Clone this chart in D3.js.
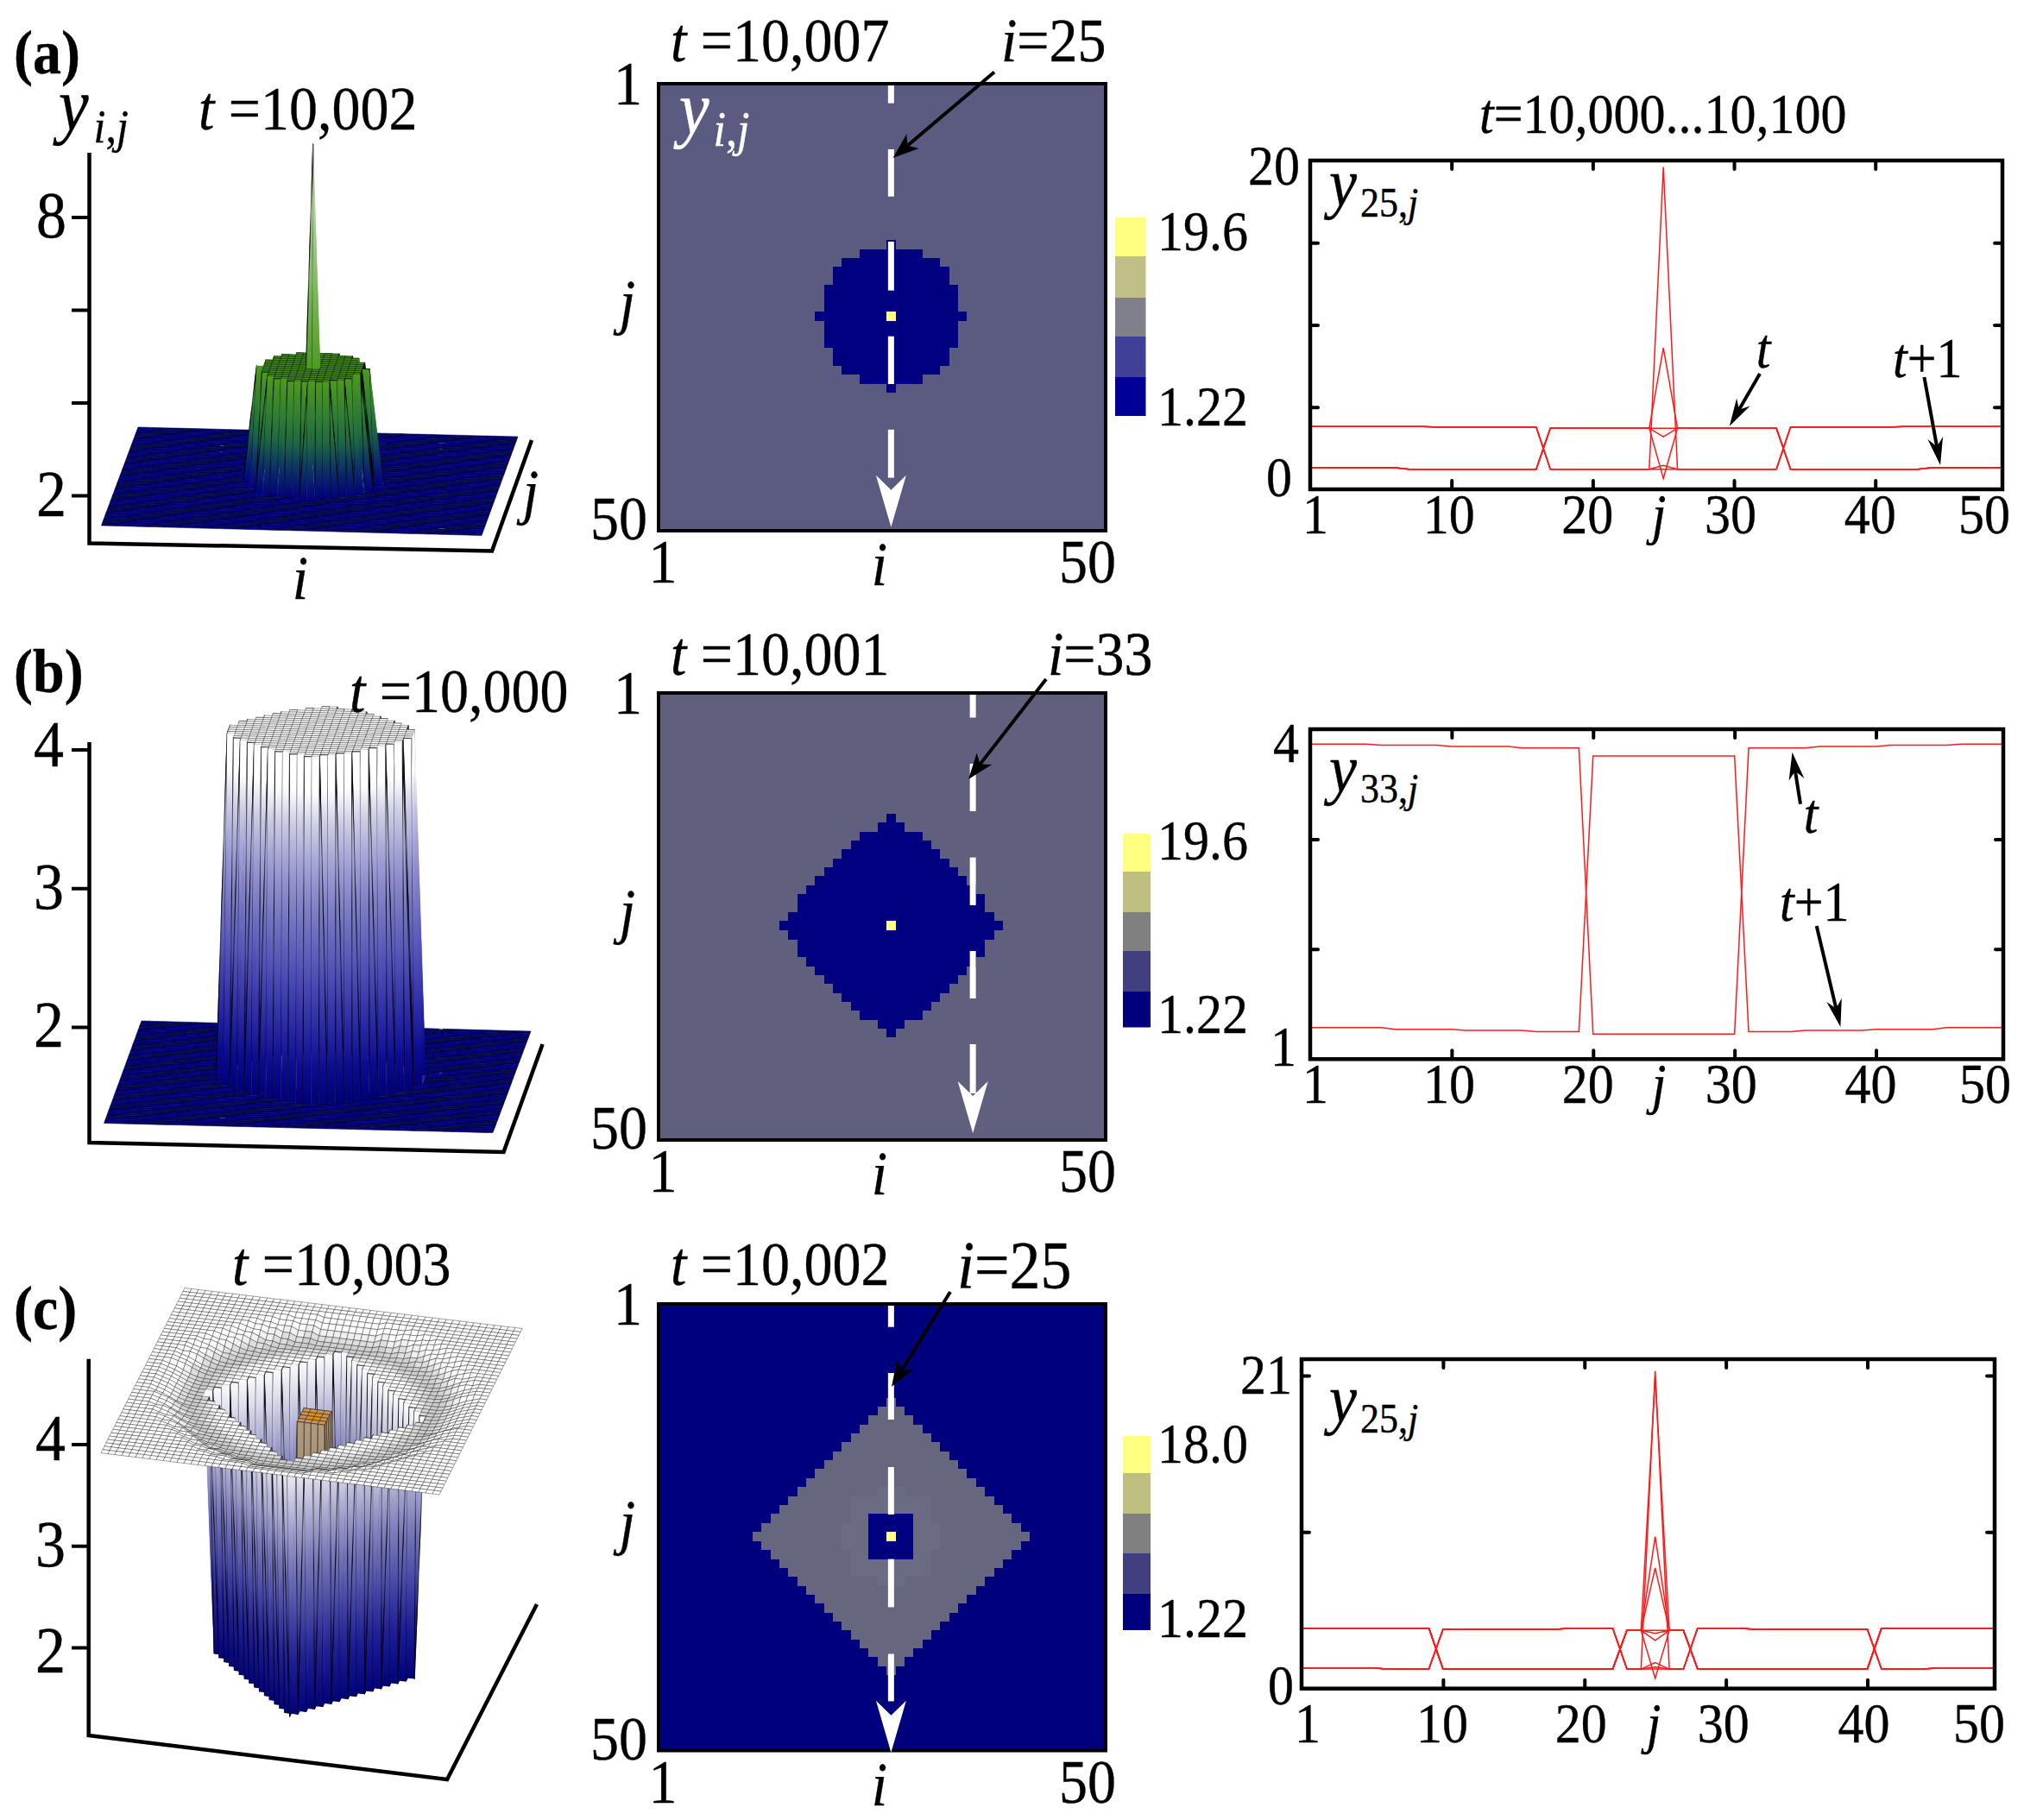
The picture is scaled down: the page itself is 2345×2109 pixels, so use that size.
<!DOCTYPE html>
<html><head><meta charset="utf-8">
<script src="https://cdn.jsdelivr.net/npm/d3@7/dist/d3.min.js"></script>
<style>
html,body{margin:0;padding:0;background:#fff}
svg{display:block}
text{font-family:"Liberation Serif","Times New Roman",serif;fill:#000;white-space:pre}
</style></head><body>
<script>
// ---------- values ----------
// half-widths (in cells) of the low region, for row distance 0,1,2... from the centre cell
const maskA = [8,7,7,7,6,6,5,3,0];
const maskB = [12,11,10,10,9,8,7,6,5,4,3,1,0];
const maskC = [15,14,13,12,11,10,9,8,7,6,5,4,3,2,1,0];
const maskCInner = [5,5,4,4,4,1];
const maskCSquare = [2,2,2];
const maskCentre = [0];
const maskB3D = [12,12,12,11,11,10,9,8,7,6,5,3,1];

const cutColumns = [25,34.15,25];
const barColorsA = ["#ffff80","#bfbf87","#80808c","#404098","#000099"];
const barColorsB = ["#ffff80","#bfbf80","#808080","#404080","#00007f"];
const barColorsC = ["#ffff80","#bfbf80","#808080","#404080","#00007f"];

// line-plot profiles, j = 0..49
const a_t = [3.82,3.82,3.82,3.82,3.82,3.82,3.82,3.82,3.82,3.78,3.78,3.78,3.78,3.78,3.78,3.78,3.78,1.22,1.22,1.22,1.22,1.22,1.22,1.22,1.22,1.22,1.22,1.22,1.22,1.22,1.22,1.22,1.22,1.22,3.78,3.78,3.78,3.78,3.78,3.78,3.78,3.78,3.82,3.82,3.82,3.82,3.82,3.82,3.82,3.82];
const a_t1 = [1.31,1.31,1.31,1.31,1.31,1.31,1.31,1.22,1.22,1.22,1.22,1.22,1.22,1.22,1.22,1.22,1.22,3.72,3.72,3.72,3.72,3.72,3.72,3.72,3.72,3.72,3.72,3.72,3.72,3.72,3.72,3.72,3.72,3.72,1.22,1.22,1.22,1.22,1.22,1.22,1.22,1.22,1.22,1.22,1.31,1.31,1.31,1.31,1.31,1.31];
const a_centre = [[0,19.6],[0,1.45],[1,8.6],[1,3.2],[1,0.66]];   // [profile, value at j=25]

const b_t = [3.864,3.864,3.864,3.864,3.864,3.854,3.854,3.854,3.854,3.854,3.843,3.843,3.843,3.843,3.843,3.83,3.83,3.83,3.83,3.83,1.227,1.227,1.227,1.227,1.227,1.227,1.227,1.227,1.227,1.227,1.227,3.83,3.83,3.83,3.83,3.83,3.843,3.843,3.843,3.843,3.843,3.854,3.854,3.854,3.854,3.854,3.864,3.864,3.864,3.864];
const b_t1 = [1.287,1.287,1.287,1.287,1.287,1.287,1.272,1.272,1.272,1.272,1.272,1.262,1.262,1.262,1.262,1.262,1.25,1.25,1.25,1.25,3.757,3.757,3.757,3.757,3.757,3.757,3.757,3.757,3.757,3.757,3.757,1.25,1.25,1.25,1.25,1.262,1.262,1.262,1.262,1.262,1.272,1.272,1.272,1.272,1.272,1.287,1.287,1.287,1.287,1.287];
const b_centre = [];

const c_t = [4.05,4.05,4.05,4.05,4.05,4.05,4.05,4.05,4.05,4.05,1.31,1.31,1.31,1.31,1.31,1.31,1.31,1.31,1.31,1.31,1.31,1.31,1.31,3.9,3.9,3.9,3.9,3.9,1.31,1.31,1.31,1.31,1.31,1.31,1.31,1.31,1.31,1.31,1.31,1.31,1.31,4.05,4.05,4.05,4.05,4.05,4.05,4.05,4.05,4.05];
const c_t1 = [1.39,1.39,1.39,1.39,1.39,1.39,1.31,1.31,1.31,1.31,3.98,3.98,3.98,3.98,3.98,3.98,3.98,3.98,3.98,4.05,4.05,4.05,4.05,1.31,1.31,1.31,1.31,1.31,4.05,4.05,4.05,4.05,3.98,3.98,3.98,3.98,3.98,3.98,3.98,3.98,3.98,1.31,1.31,1.31,1.31,1.39,1.39,1.39,1.39,1.39];
const c_centre = [[1,21.3],[1,1.74],[1,1.45],[0,20.9],[0,10.2],[0,8.1],[0,3.7],[0,3.23],[0,0.68]];

// 3-D surfaces: heights
const a3d = {floor:1.3, top:3.78, spike:8.6};
const b3d = {floor:1.4, top:3.9};
const c3d = {mesh:4.1, well:1.42, block:3.87};
const meshSag = [-.13,-.13,-.13,-.13,-.13,-.13,-.13,-.13,-.13,-.13,-.13,-.13,-.13,-.13,-.13,-.13,-.13,-.13,-.12,-.10,-.07,-.04,-.02];
const meshShade = ["#fff","#fff","#fff","#fff","#fff","#fff","#fff","#fff","#fff","#fff","#fff","#fff","#fff","#fff","#fff","#e8e8e8","#d8d8d8","#cccccc","#d0d0d0","#dedede","#f0f0f0"];

const xTickLabels = ["1","10","20","30","40","50"];

// ---------- page ----------
const W=2345,H=2109;
const svg=d3.select("body").append("svg").attr("width",W).attr("height",H).attr("viewBox",`0 0 ${W} ${H}`);
const defs=svg.append("defs");

function label(x,y,parts,size,opt={}){
  const col=opt.fill||"#000";
  const t=svg.append("text").attr("font-size",size)
    .attr("transform",`translate(${x},${y}) scale(1,1.1)`)
    .attr("text-anchor",opt.anchor||"start")
    .attr("stroke",col).attr("stroke-width",.35);
  if(opt.fill)t.style("fill",opt.fill);
  if(opt.bold)t.attr("font-weight","bold");
  (Array.isArray(parts)?parts:[parts]).forEach(p=>{
    if(typeof p==="string")p={t:p};
    const s=t.append("tspan").text(p.t);
    if(p.i)s.attr("font-style","italic");
    if(p.size)s.attr("font-size",p.size);
    if(p.dy)s.attr("dy",p.dy);
    if(p.dx)s.attr("dx",p.dx);
    if(opt.fill)s.style("fill",opt.fill);
  });
  return t;
}
function arrow(g,x1,y1,x2,y2,o={}){
  const col=o.col||"#000",len=o.len||30,hw=o.hw||10,n=o.notch||20,sw=o.sw===undefined?4:o.sw;
  const a=Math.atan2(y2-y1,x2-x1),c=Math.cos(a),s=Math.sin(a);
  if(sw>0)g.append("line").attr("x1",x1).attr("y1",y1).attr("x2",x2-c*n).attr("y2",y2-s*n)
    .attr("stroke",col).attr("stroke-width",sw);
  const pt=(l,w)=>[x2-c*l-s*w,y2-s*l+c*w];
  g.append("polygon").attr("fill",col)
    .attr("points",[pt(0,0),pt(len,hw),pt(n,0),pt(len,-hw)].map(p=>p.map(v=>v.toFixed(1)).join(",")).join(" "));
}

// ---------- heat maps ----------
const heatPanels=[
 {top:97,bottom:615,bg:"#5b5a80",
  layers:[[maskA,"#000080"],[maskCentre,"#ffff80"]],
  cut:cutColumns[0],dashes:[[97,119.6],[173,227.7],[280,336.6],[389.7,445],[497.8,553.6]],head:[610.7],
  bar:{x:1292,w:35.5,stops:[252,297,345,390,437,482],colors:barColorsA},
  barTop:"19.6",barBottom:"1.22",barTopY:290,barBottomY:493,
  title:["10,007"],titleY:71.4,cutLabel:"=25",cutX:1160,cutY:71,cutSize:66,
  arrow:[1152,83.5,1034.6,183]},
 {top:803,bottom:1321,bg:"#60607e",
  layers:[[maskB,"#000080"],[maskCentre,"#ffff80"]],
  cut:cutColumns[1],dashes:[[804,831.5],[885,940],[993.6,1049],[1102,1157],[1210,1267]],head:[1313],
  bar:{x:1301,w:32,stops:[966,1010,1057,1102,1149,1190.5],colors:barColorsB},
  barTop:"19.6",barBottom:"1.22",barTopY:996,barBottomY:1197,
  title:["10,001"],titleY:782,cutLabel:"=33",cutX:1214,cutY:782,cutSize:66,
  arrow:[1212,787,1122,903]},
 {top:1511,bottom:2028.5,bg:"#00007f",
  layers:[[maskC,"#66667f"],[maskCInner,"#6b6b83"],[maskCSquare,"#000080"],[maskCentre,"#ffff80"]],
  cut:cutColumns[2],dashes:[[1511,1537.7],[1591,1645],[1700,1755],[1806.6,1862.4],[1916.5,1971.4]],head:[2030.7],
  bar:{x:1301,w:32,stops:[1664,1707,1754,1800,1847,1889],colors:barColorsC},
  barTop:"18.0",barBottom:"1.22",barTopY:1695,barBottomY:1897,
  title:["10,002"],titleY:1489.4,cutLabel:"=25",cutX:1109,cutY:1491.6,cutSize:72,
  arrow:[1101,1497,1033,1606.7]}
];
const titleBottomOffset=60;
heatPanels.forEach(p=>{
  const left=763,right=1281;
  const x=d3.scaleLinear().domain([-0.5,49.5]).range([left,right]);
  const y=d3.scaleLinear().domain([-0.5,49.5]).range([p.top,p.bottom]);
  const g=svg.append("g");
  g.append("rect").attr("x",left).attr("y",p.top).attr("width",right-left).attr("height",p.bottom-p.top).attr("fill",p.bg);
  p.layers.forEach(([mask,fill])=>{
    const rows=[];
    mask.forEach((hw,d)=>{rows.push([25+d,hw]); if(d>0)rows.push([25-d,hw]);});
    g.append("g").attr("shape-rendering","crispEdges").selectAll("rect").data(rows).join("rect")
      .attr("x",r=>x(25-r[1])).attr("width",r=>x(25+r[1]+1)-x(25-r[1]))
      .attr("y",r=>y(r[0])).attr("height",r=>y(r[0]+1)-y(r[0])+.6).attr("fill",fill);
  });
  const cx=x(p.cut)+(x(1)-x(0))/2;
  g.append("g").selectAll("rect").data(p.dashes).join("rect")
    .attr("x",cx-3.5).attr("width",7).attr("y",d=>d[0]).attr("height",d=>d[1]-d[0]).attr("fill","#fff");
  g.append("rect").attr("x",left).attr("y",p.top).attr("width",right-left).attr("height",p.bottom-p.top)
    .attr("fill","none").attr("stroke","#000").attr("stroke-width",4);
  arrow(g,cx,p.head[0]-60,cx,p.head[0],{col:"#fff",len:60,hw:17.5,notch:43,sw:0});
  arrow(g,...p.arrow,{len:30,hw:11,notch:22,sw:4});
  // colour bar
  const b=p.bar;
  g.append("g").selectAll("rect").data(b.colors).join("rect")
    .attr("x",b.x).attr("width",b.w).attr("y",(c,i)=>b.stops[i]).attr("height",(c,i)=>b.stops[i+1]-b.stops[i]).attr("fill",c=>c);
  label(1341,p.barTopY,p.barTop,60);
  label(1341,p.barBottomY,p.barBottom,60);
  label(777,p.titleY,[{t:"t",i:true},{t:" =10,"+p.title[0].slice(3)}],66);
  label(p.cutX,p.cutY,[{t:"i",i:true},{t:p.cutLabel}],p.cutSize);
  // axis numbers
  label(744,p.top+24,"1",66,{anchor:"end"});
  label(750,p.bottom+10,"50",66,{anchor:"end"});
  label(768,p.bottom+titleBottomOffset,"1",66,{anchor:"middle"});
  label(1260,p.bottom+titleBottomOffset,"50",66,{anchor:"middle"});
  label(1019,p.bottom+titleBottomOffset+3,[{t:"i",i:true}],66,{anchor:"middle"});
  label(727,p.top+277,[{t:"j",i:true}],66,{anchor:"middle"});
});
label(787,154,[{t:"y",i:true},{t:"i",i:true,size:52,dy:14,dx:5},{t:",",size:52},{t:"j",i:true,size:52}],78,{fill:"#fff"});

// ---------- line plots ----------
const linePanels=[
 {L:1518,R:2320,T:186,B:567,dom:[0,20],yTicks:[5,10,15],
  profiles:[a_t,a_t1],centre:a_centre,
  yLabels:[["20",1506,214],["0",1497,575]],xBase:618,xNudge:[6,-3,-6,-4,-6,-21],jX:1922,
  sub:"25,",subY:238,
  notes:[[2043,426,[{t:"t",i:true}],"middle"],[2193,437,[{t:"t",i:true},{t:"+1"}],"start"]],
  arrows:[[2039,433,2003.8,493.7],[2229.4,437,2248,539]]},
 {L:1518,R:2321,T:845,B:1227.3,dom:[1,4],yTicks:[2,3],
  profiles:[b_t,b_t1],centre:b_centre,
  yLabels:[["4",1505,883],["1",1502,1235]],xBase:1278,xNudge:[6,-3,-6,-4,-6,-21],jX:1922,
  sub:"33,",subY:916.7,
  notes:[[2098,965,[{t:"t",i:true}],"middle"],[2062,1067,[{t:"t",i:true},{t:"+1"}],"start"]],
  arrows:[[2086,931.7,2076.5,871.7],[2104.7,1073,2132.4,1190]]},
 {L:1508,R:2311,T:1575,B:1956.7,dom:[0,22.1],yTicks:[10.5,21],
  profiles:[c_t,c_t1],centre:c_centre,
  yLabels:[["21",1497,1615],["0",1499,1975]],xBase:2019,xNudge:[7,-1,-4,-3,-4,-18],jX:1916,
  sub:"25,",subY:1647,notes:[],arrows:[]}
];
linePanels.forEach(p=>{
  const x=d3.scaleLinear().domain([0,49]).range([p.L,p.R]);
  const y=d3.scaleLinear().domain(p.dom).range([p.B,p.T]);
  const line=d3.line().x((d,i)=>x(i)).y(d=>y(d));
  const g=svg.append("g");
  const series=[...p.profiles];
  p.centre.forEach(([k,v])=>{const s=p.profiles[k].slice();s[25]=v;series.push(s);});
  g.append("g").selectAll("path").data(series).join("path")
    .attr("d",line).attr("fill","none").attr("stroke","#ff1a1a").attr("stroke-width",1.5);
  const tickVals=[10,20,30,40];
  const axes=[
    [d3.axisBottom(x).tickValues(tickVals).tickSize(-10),p.B,0],
    [d3.axisTop(x).tickValues(tickVals).tickSize(-10),p.T,0],
    [d3.axisLeft(y).tickValues(p.yTicks).tickSize(-9),0,p.L],
    [d3.axisRight(y).tickValues(p.yTicks).tickSize(-9),0,p.R]];
  axes.forEach(([ax,ty,tx])=>{
    const a=g.append("g").attr("transform",`translate(${tx},${ty})`).call(ax.tickFormat("").tickSizeOuter(0));
    a.select(".domain").remove();
    a.selectAll("line").attr("stroke","#000").attr("stroke-width",4).attr("stroke-linecap","round");
  });
  g.append("rect").attr("x",p.L).attr("y",p.T).attr("width",p.R-p.L).attr("height",p.B-p.T)
    .attr("fill","none").attr("stroke","#000").attr("stroke-width",4.5);
  p.yLabels.forEach(([t,lx,ly])=>label(lx,ly,t,60,{anchor:"end"}));
  [0,10,20,30,40,49].forEach((v,i)=>label(x(v)+p.xNudge[i],p.xBase,xTickLabels[i],60,{anchor:"middle"}));
  label(p.jX,p.xBase,[{t:"j",i:true}],60,{anchor:"middle"});
  label(1540,p.subY,[{t:"y",i:true},{t:p.sub,size:44,dy:12,dx:4},{t:"j",i:true,size:44}],72);
  p.notes.forEach(([nx,ny,parts,an])=>label(nx,ny,parts,60,{anchor:an}));
  p.arrows.forEach(a=>arrow(g,...a,{len:32,hw:9,notch:22,sw:4}));
});
label(1714,154.4,[{t:"t",i:true},{t:"=10,000...10,100"}],60);

// ---------- 3-D surfaces ----------
const gradCache=new Map();
const wl=defs.append("linearGradient").attr("id","wallLine").attr("x1",0).attr("y1",0).attr("x2",0).attr("y2",1);
[[0,.7],[.1,.95],[.3,.35],[.45,.85],[.6,.4],[.75,.9],[1,.6]].forEach(([o,a])=>
  wl.append("stop").attr("offset",o).attr("stop-color","#000").attr("stop-opacity",a));
function wallGradient(key,ramp,zlo,zhi){
  const id=`g${key}_${Math.round(zlo*5)}_${Math.round(zhi*5)}`;
  if(!gradCache.has(id)){
    gradCache.set(id,1);
    const g=defs.append("linearGradient").attr("id",id).attr("x1",0).attr("y1",0).attr("x2",0).attr("y2",1);
    d3.range(0,1.001,.1).forEach(t=>g.append("stop").attr("offset",t).attr("stop-color",ramp(zhi+(zlo-zhi)*t)));
  }
  return `url(#${id})`;
}
// walls carry a dark edge only on every other column; the others keep a hairline of their own fill
function wallStyle(q,fill){
  const edge=q.i%2===0;
  return {fill,stroke:edge?"url(#wallLine)":fill,sw:edge?1.1:.2};
}
const inMask=(m,i,j)=>{const d=Math.abs(j-25);return d<m.length&&Math.abs(i-25)<=m[d];};

function surface(p){
  const g=svg.append("g");
  const nodes=d3.range(50);
  const pr=(i,j,z)=>{
    const u=i/49,v=j/49;
    const tx=p.BL[0]+(p.BR[0]-p.BL[0])*u,ty=p.BL[1]+(p.BR[1]-p.BL[1])*u;
    const bx=p.FL[0]+(p.FR[0]-p.FL[0])*u,by=p.FL[1]+(p.FR[1]-p.FL[1])*u;
    const X=tx+(bx-tx)*v,Y=ty+(by-ty)*v,zp=p.zs(z);
    return [p.cx+(X-p.cx)*(1-p.k*zp),Y-zp,Y];
  };
  const quads=[];
  nodes.slice(0,49).forEach(j=>nodes.slice(0,49).forEach(i=>{
    const cs=[[i,j],[i+1,j],[i+1,j+1],[i,j+1]];
    const zz=cs.map(c=>p.h(c[0],c[1]));
    const pts=cs.map((c,k)=>pr(c[0],c[1],zz[k]));
    const depth=d3.mean(pts,q=>q[2]);
    quads.push({i,j,zz,pts,depth,cs});
  }));
  quads.sort((a,b)=>a.depth-b.depth);
  g.selectAll("polygon").data(quads).join("polygon")
    .attr("points",q=>q.pts.map(a=>a[0].toFixed(1)+","+a[1].toFixed(1)).join(" "))
    .each(function(q){
      const lo=d3.min(q.zz),hi=d3.max(q.zz),s=d3.select(this);
      const st=p.style(q,lo,hi);
      s.attr("fill",st.fill).attr("stroke",st.stroke).attr("stroke-width",st.sw).attr("stroke-linejoin","round");
      if(st.so)s.attr("stroke-opacity",st.so);
    });
  p.axis.forEach(seg=>g.append("polyline").attr("points",seg.map(a=>a.join(",")).join(" "))
    .attr("fill","none").attr("stroke","#000").attr("stroke-width",4.5).attr("stroke-linejoin","miter"));
  const ay=p.yAxis;
  ay.vals.forEach(v=>g.append("line").attr("x1",83).attr("x2",104).attr("y1",ay.scale(v)).attr("y2",ay.scale(v))
    .attr("stroke","#000").attr("stroke-width",4));
}

// panel a
const rampA=d3.scaleLinear().domain([1.3,1.9,2.5,3.78,5.5,7.5,8.6])
  .range(["#00007f","#0a3068","#206a40","#4c9a20","#7fb860","#b5d5a5","#9a9a9a"]);
surface({
  BL:[160,495],BR:[600,506],FR:[558,620.5],FL:[117.4,609],cx:362,k:.00067,
  zs:d3.scaleLinear().domain([a3d.floor,a3d.floor+1]).range([0,53.7]),
  h:(i,j)=>(i===25&&j===25)?a3d.spike:inMask(maskA,i,j)?a3d.top:a3d.floor,
  style:(q,lo,hi)=>{
    if(hi-lo>.4)return wallStyle(q,wallGradient("a",rampA,lo,hi));
    if(hi>3)return{fill:"#4a8f22",stroke:"#143c0a",sw:.8};
    return{fill:"#00007f",stroke:"#00002a",sw:.7,so:.8};
  },
  axis:[[[103.5,177],[103.5,629.5],[570,638.4],[616,510]]],
  yAxis:{scale:d3.scaleLinear().domain([2,8]).range([574.5,252]),vals:[2,4,6,8]}
});
// panel b
const rampB=d3.scaleLinear().domain([1.4,1.55,2.0,2.55,3.1,3.5,3.62,3.9])
  .range(["#000078","#00008a","#3030aa","#6464bc","#a0a0d4","#dcdcec","#ffffff","#ffffff"]);
surface({
  BL:[164,1183],BR:[615,1195],FR:[571,1312.6],FL:[120.5,1301.6],cx:370,k:.00008,
  zs:d3.scaleLinear().domain([b3d.floor,b3d.floor+1]).range([0,160.6]),
  h:(i,j)=>inMask(maskB3D,i,j)?b3d.top:b3d.floor,
  style:(q,lo,hi)=>{
    if(hi-lo>.4)return wallStyle(q,wallGradient("b",rampB,lo,hi));
    if(hi>3)return{fill:"#fff",stroke:"#333",sw:.55,so:.85};
    return{fill:"#00007f",stroke:"#00002a",sw:.7,so:.8};
  },
  axis:[[[103.5,860],[103.5,1324],[583.5,1335],[628.6,1210]]],
  yAxis:{scale:d3.scaleLinear().domain([2,4]).range([1190.5,869]),vals:[2,3,4]}
});
// panel c
const rampC=d3.scaleLinear().domain([1.42,2,2.5,3.2,3.7,4.0])
  .range(["#00007a","#202098","#5050a8","#9898c8","#dcdcec","#ffffff"]);
const rampBlock=d3.scaleLinear().domain([1.42,3.87]).range(["#7a6a58","#b09a80"]);
const radius=(i,j)=>Math.round(Math.hypot(i-25,j-25));
const isBlock=(i,j)=>inMask(maskCSquare,i,j);
surface({
  BL:[214,1492.5],BR:[605,1539.5],FR:[509,1732],FL:[117,1683.6],cx:361,k:-.0001,
  zs:d3.scaleLinear().domain([c3d.mesh,c3d.mesh+1]).range([0,118]),
  h:(i,j)=>isBlock(i,j)?c3d.block:inMask(maskC,i,j)?c3d.well:c3d.mesh+(meshSag[radius(i,j)]||0),
  style:(q,lo,hi)=>{
    const blk=q.cs.some(c=>isBlock(c[0],c[1]));
    if(hi-lo>.4){
      if(blk)return{fill:wallGradient("k",rampBlock,lo,hi),stroke:"#3a2e20",sw:.7};
      return wallStyle(q,wallGradient("c",rampC,lo,hi));
    }
    if(blk)return{fill:q.cs.every(c=>Math.abs(c[0]-25)<=1&&Math.abs(c[1]-25)<=1)?"#e88e14":"#c89658",stroke:"#4a3a20",sw:.7};
    if(lo<3)return{fill:"#00007a",stroke:"#000040",sw:.5};
    const r=radius(q.i+.5,q.j+.5);
    return{fill:meshShade[r]||"#fff",stroke:"#222",sw:.5,so:.85};
  },
  axis:[[[102.7,1574.7],[102.7,2011],[518,2062],[622,1859]]],
  yAxis:{scale:d3.scaleLinear().domain([2,4]).range([1909.5,1674]),vals:[2,3,4]}
});

// 3-D panel text
label(16,85,"(a)",66,{bold:true});
label(16,802,"(b)",66,{bold:true});
label(16,1539.5,"(c)",66,{bold:true});
label(68,150,[{t:"y",i:true},{t:"i",i:true,size:50,dy:14,dx:6},{t:",",size:50},{t:"j",i:true,size:50}],78);
label(230,149.5,[{t:"t",i:true},{t:" =10,002"}],66);
label(405,825,[{t:"t",i:true},{t:" =10,000"}],66);
label(269,1489,[{t:"t",i:true},{t:" =10,003"}],66);
[["8",77,274.5],["2",77,598],["4",74,888],["3",74,1052.5],["2",74,1213],["4",76,1692.4],["3",76,1815],["2",76,1937.6]]
  .forEach(([t,x,y])=>label(x,y,t,70,{anchor:"end"}));
label(615,594,[{t:"j",i:true}],66,{anchor:"middle"});
label(348,694,[{t:"i",i:true}],66,{anchor:"middle"});
</script>
</body></html>
